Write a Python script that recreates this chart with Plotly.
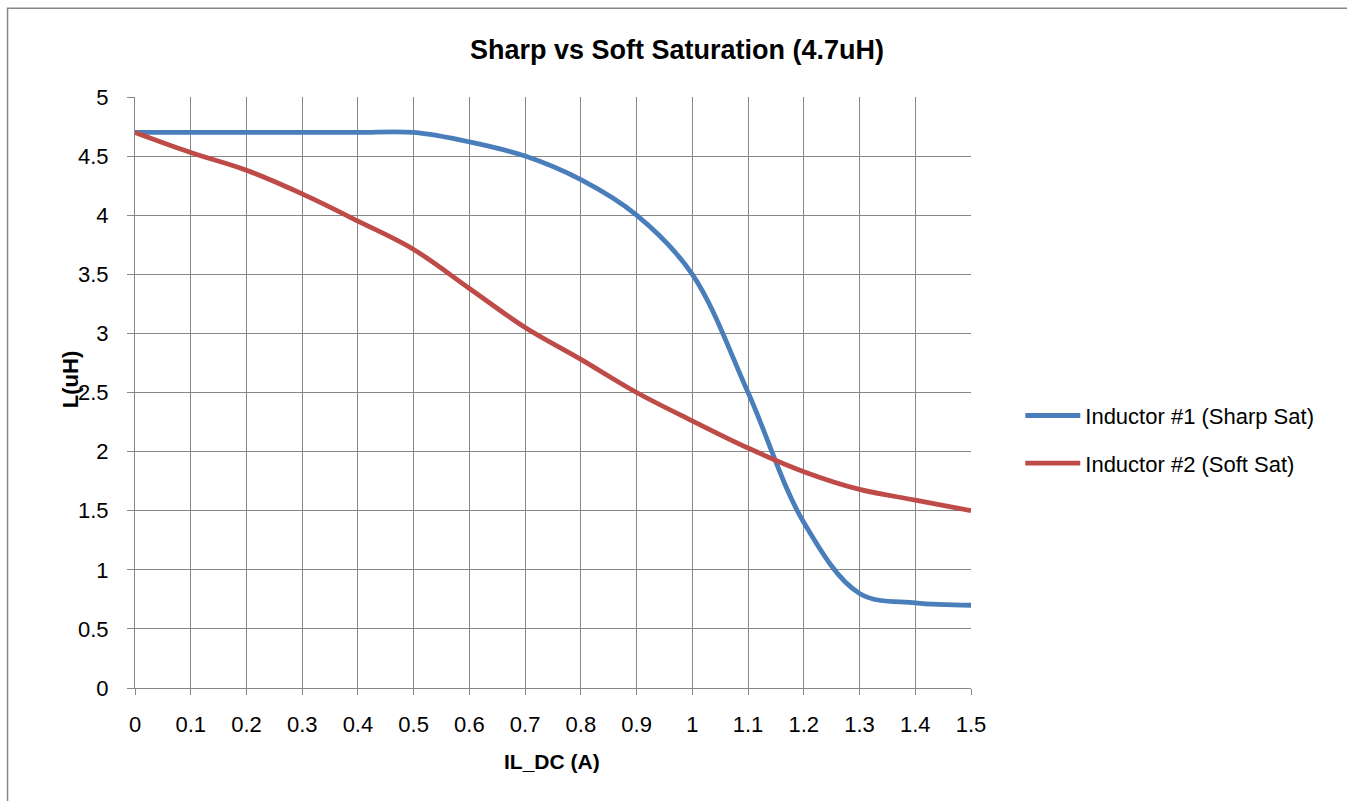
import plotly.graph_objects as go

current_a = [0, 0.1, 0.2, 0.3, 0.4, 0.5, 0.6, 0.7, 0.8, 0.9, 1.0, 1.1, 1.2, 1.3, 1.4, 1.5]
inductor1_sharp = [4.7, 4.7, 4.7, 4.7, 4.7, 4.7, 4.62, 4.5, 4.3, 4.0, 3.5, 2.5, 1.4, 0.8, 0.72, 0.7]
inductor2_soft = [4.7, 4.53, 4.38, 4.18, 3.95, 3.71, 3.38, 3.05, 2.78, 2.5, 2.26, 2.03, 1.83, 1.68, 1.59, 1.5]
series_names = ["Inductor #1 (Sharp Sat)", "Inductor #2 (Soft Sat)"]
x_ticks = [0, 0.1, 0.2, 0.3, 0.4, 0.5, 0.6, 0.7, 0.8, 0.9, 1, 1.1, 1.2, 1.3, 1.4, 1.5]
y_ticks = [0, 0.5, 1, 1.5, 2, 2.5, 3, 3.5, 4, 4.5, 5]

FONT = "Liberation Sans, Arial, sans-serif"
GRID = "#878787"

W, H = 1347, 801
L, R, T, B = 134.5, 376.3, 97.3, 112.7
pw, ph = W - L - R, H - T - B


def px_x(p):
    return (p - L) / pw


def px_y(p):
    return (H - B - p) / ph


fig = go.Figure()
fig.add_trace(go.Scatter(x=current_a, y=inductor1_sharp, mode="lines", name=series_names[0],
                         legendgroup="a",
                         line=dict(color="#4A7EBB", width=4.8, shape="spline", smoothing=1)))
fig.add_trace(go.Scatter(x=current_a, y=inductor2_soft, mode="lines", name=series_names[1],
                         legendgroup="b",
                         line=dict(color="#BE4B48", width=4.8, shape="spline", smoothing=1)))

fig.update_layout(
    width=W, height=H,
    margin=dict(l=L, r=R, t=T, b=B, autoexpand=False),
    paper_bgcolor="white", plot_bgcolor="white",
    font=dict(family=FONT, size=22, color="black"),
    title=dict(text="<b>Sharp vs Soft Saturation (4.7uH)</b>", x=677 / W, xanchor="center",
               y=1 - 50 / H, yanchor="middle", font=dict(size=27, family=FONT)),
    showlegend=True,
    legend=dict(x=px_x(1020), xanchor="left", y=px_y(395), yanchor="top",
                font=dict(size=22, family=FONT), tracegroupgap=16, itemwidth=55,
                bgcolor="rgba(0,0,0,0)"),
    xaxis=dict(range=[0, 1.5], tickvals=x_ticks, ticktext=[f"{v:g}" for v in x_ticks],
               showgrid=True, gridcolor=GRID, gridwidth=1, zeroline=False,
               showline=True, linecolor=GRID, linewidth=1,
               ticks="outside", ticklen=6, tickcolor=GRID, ticklabelstandoff=11,
               tickfont=dict(size=22)),
    yaxis=dict(range=[0, 5], tickvals=y_ticks, ticktext=[f"{v:g}" for v in y_ticks],
               showgrid=True, gridcolor=GRID, gridwidth=1, zeroline=False,
               showline=True, linecolor=GRID, linewidth=1,
               ticks="outside", ticklen=7, tickcolor=GRID, ticklabelstandoff=14,
               tickfont=dict(size=22)),
)

# axis titles placed like the original
fig.add_annotation(text="<b>IL_DC (A)</b>", xref="paper", yref="paper",
                   x=px_x(552), y=px_y(762), xanchor="center", yanchor="middle",
                   showarrow=False, font=dict(size=21, family=FONT))
fig.add_annotation(text="<b>L(uH)</b>", xref="paper", yref="paper", textangle=-90,
                   x=px_x(70), y=px_y(380), xanchor="center", yanchor="middle",
                   showarrow=False, font=dict(size=22, family=FONT))

# chart outer border (extends beyond right and bottom edges)
fig.add_shape(type="rect", xref="paper", yref="paper",
              x0=px_x(7), x1=px_x(1400),
              y0=px_y(850), y1=px_y(8.5),
              line=dict(color="#868686", width=1.5), fillcolor="rgba(0,0,0,0)", layer="below")

fig.write_html("out.html", config={"displayModeBar": False},
               post_script="document.body.style.margin='0';document.body.style.overflow='hidden';")
